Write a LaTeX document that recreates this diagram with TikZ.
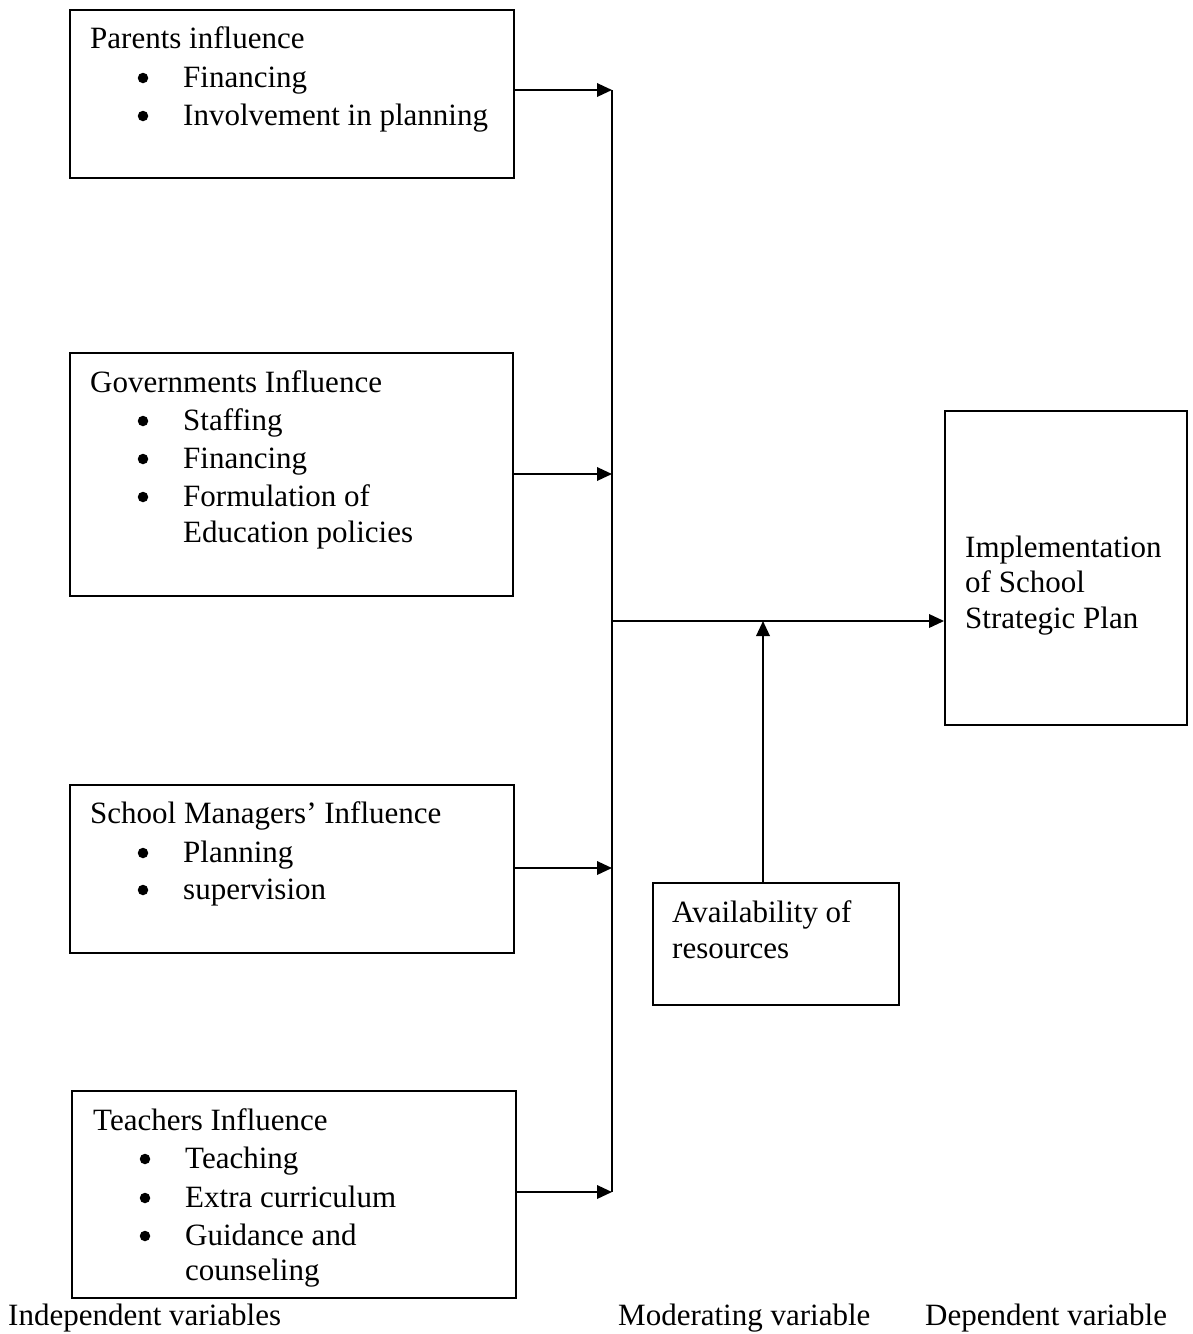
\documentclass[tikz,border=0pt]{standalone}
\usepackage{fontspec}
\setmainfont{Liberation Serif}
\usetikzlibrary{arrows.meta}
\begin{document}
\begin{tikzpicture}[x=1pt,y=-1pt,
  box/.style={draw, line width=1.9pt, rectangle, inner sep=0pt},
  txt/.style={anchor=base west, inner sep=0pt, font=\fontsize{31}{37}\selectfont},
  bul/.style={circle, fill, inner sep=0pt, minimum size=10.5pt},
  conn/.style={line width=1.9pt},
  arr/.style={line width=1.9pt, -{Triangle[length=15pt,width=13.5pt]}}]
\useasboundingbox (0,0) rectangle (1193,1334);
% boxes
\node[box, minimum width=444pt, minimum height=168pt] (b1) at (292,94) {};
\node[box, minimum width=443pt, minimum height=243pt] (b2) at (291.5,474.5) {};
\node[box, minimum width=444pt, minimum height=168pt] (b3) at (292,869) {};
\node[box, minimum width=444pt, minimum height=207pt] (b4) at (294,1194.5) {};
\node[box, minimum width=242pt, minimum height=314pt] (dv) at (1066,568) {};
\node[box, minimum width=246pt, minimum height=122pt] (mv) at (776,944) {};
% box 1 text
\node[txt] (t1) at (90,48) {Parents influence};
\node[bul] (t1a) at (143,78) {};
\node[txt] (t1b) at (183,87) {Financing};
\node[bul] (t1c) at (143,116) {};
\node[txt] (t1d) at (183,125) {Involvement in planning};
% box 2 text
\node[txt] (t2) at (90,392) {Governments Influence};
\node[bul] (t2a) at (143,421) {};
\node[txt] (t2b) at (183,430) {Staffing};
\node[bul] (t2c) at (143,459) {};
\node[txt] (t2d) at (183,468) {Financing};
\node[bul] (t2e) at (143,497) {};
\node[txt] (t2f) at (183,506) {Formulation of};
\node[txt] (t2g) at (183,542) {Education policies};
% box 3 text
\node[txt] (t3) at (90,823) {School Managers’ Influence};
\node[bul] (t3a) at (143,853) {};
\node[txt] (t3b) at (183,862) {Planning};
\node[bul] (t3c) at (143,890) {};
\node[txt] (t3d) at (183,899) {supervision};
% box 4 text
\node[txt] (t4) at (93,1130) {Teachers Influence};
\node[bul] (t4a) at (145,1159) {};
\node[txt] (t4b) at (185,1168) {Teaching};
\node[bul] (t4c) at (145,1198) {};
\node[txt] (t4d) at (185,1207) {Extra curriculum};
\node[bul] (t4e) at (145,1236) {};
\node[txt] (t4f) at (185,1245) {Guidance and};
\node[txt] (t4g) at (185,1280) {counseling};
% dependent box text
\node[txt] (d1) at (965,557) {Implementation};
\node[txt] (d2) at (965,592) {of School};
\node[txt] (d3) at (965,628) {Strategic Plan};
% moderating box text
\node[txt] (m1) at (672,922) {Availability of};
\node[txt] (m2) at (672,958) {resources};
% bottom labels
\node[txt] (l1) at (8,1325) {Independent variables};
\node[txt] (l2) at (618,1325) {Moderating variable};
\node[txt] (l3) at (925,1325) {Dependent variable};
% bus
\coordinate (bt) at (612,90);
\coordinate (b2j) at (612,474);
\coordinate (b3j) at (612,868);
\coordinate (bb) at (612,1192);
\coordinate (bj) at (612,621);
\coordinate (mj) at (763,621);
\draw[conn] (bt) -- (bb);
\draw[arr] (b1.east |- bt) -- (bt);
\draw[arr] (b2.east |- b2j) -- (b2j);
\draw[arr] (b3.east |- b3j) -- (b3j);
\draw[arr] (b4.east |- bb) -- (bb);
\draw[arr] (bj) -- (bj -| dv.west);
\draw[arr] (mv.north -| mj) -- (mj);
\end{tikzpicture}
\end{document}
